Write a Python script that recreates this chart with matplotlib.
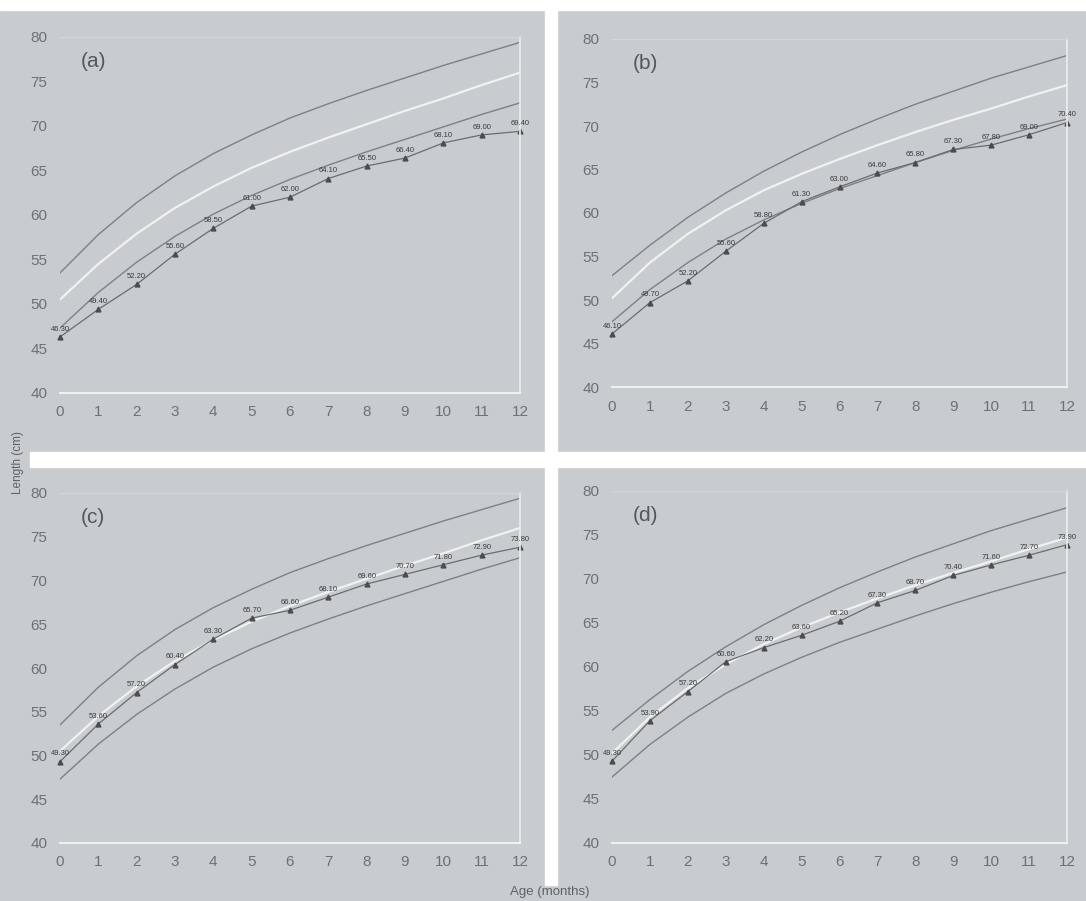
import matplotlib.pyplot as plt
from matplotlib.patches import Rectangle
import numpy as np

months = np.arange(0, 13)

# measured lengths (cm), one list per panel
length_a = [46.30, 49.40, 52.20, 55.60, 58.50, 61.00, 62.00, 64.10, 65.50, 66.40, 68.10, 69.00, 69.40]
length_b = [46.10, 49.70, 52.20, 55.60, 58.80, 61.30, 63.00, 64.60, 65.80, 67.30, 67.80, 69.00, 70.40]
length_c = [49.30, 53.60, 57.20, 60.40, 63.30, 65.70, 66.60, 68.10, 69.60, 70.70, 71.80, 72.90, 73.80]
length_d = [49.30, 53.90, 57.20, 60.60, 62.20, 63.60, 65.20, 67.30, 68.70, 70.40, 71.60, 72.70, 73.90]

# reference curves: (a)/(c) share one set, (b)/(d) the other
upper_ac = [53.5, 57.8, 61.4, 64.4, 66.9, 69.0, 70.9, 72.5, 74.0, 75.4, 76.8, 78.1, 79.4]
median_ac = [50.5, 54.5, 57.9, 60.8, 63.2, 65.3, 67.1, 68.7, 70.2, 71.7, 73.1, 74.6, 76.0]
lower_ac = [47.3, 51.3, 54.7, 57.6, 60.1, 62.2, 64.0, 65.6, 67.1, 68.5, 69.9, 71.3, 72.6]

upper_bd = [52.8, 56.3, 59.5, 62.3, 64.8, 67.0, 69.0, 70.8, 72.5, 74.0, 75.5, 76.8, 78.1]
median_bd = [50.2, 54.3, 57.6, 60.3, 62.6, 64.5, 66.2, 67.8, 69.3, 70.7, 72.0, 73.4, 74.7]
lower_bd = [47.5, 51.2, 54.3, 57.0, 59.2, 61.1, 62.8, 64.3, 65.8, 67.2, 68.5, 69.7, 70.8]

W, H = 1086, 901
bg = '#c8ccce'
tick_col = '#6e7173'
narrow = ['Liberation Sans Narrow', 'DejaVu Sans Condensed', 'Liberation Sans', 'DejaVu Sans']

fig = plt.figure(figsize=(W / 100, H / 100), dpi=100, facecolor=bg)

# white gaps of the scanned page
for (x0, y0, w, h) in [(0, 0, W, 10), (30, 452, W - 30, 15), (545, 0, 12, 885)]:
    fig.patches.append(Rectangle((x0 / W, 1 - (y0 + h) / H), w / W, h / H,
                                 transform=fig.transFigure, color='white', zorder=0))

panels = [
    ('(a)', length_a, upper_ac, median_ac, lower_ac, (60, 520, 37, 393)),
    ('(b)', length_b, upper_bd, median_bd, lower_bd, (612, 1067, 39, 387)),
    ('(c)', length_c, upper_ac, median_ac, lower_ac, (60, 520, 493, 843)),
    ('(d)', length_d, upper_bd, median_bd, lower_bd, (612, 1067, 491, 843)),
]

for tag, vals, up, med, low, (px0, px1, py80, py40) in panels:
    ax = fig.add_axes([px0 / W, 1 - py40 / H, (px1 - px0) / W, (py40 - py80) / H])
    ax.set_facecolor(bg)
    ax.set_xlim(0, 12)
    ax.set_ylim(40, 80)
    ax.set_xticks(months)
    ax.set_yticks(range(40, 81, 5))
    ax.tick_params(length=0, colors=tick_col, labelsize=11, pad=9)
    for lab in ax.get_xticklabels() + ax.get_yticklabels():
        lab.set_family(narrow)
        lab.set_stretch('condensed')
    ax.spines['left'].set_visible(False)
    ax.spines['top'].set_color('#d3d6d8')
    ax.spines['top'].set_linewidth(0.8)
    ax.spines['bottom'].set_color('#f2f3f3')
    ax.spines['bottom'].set_linewidth(1.4)
    ax.spines['right'].set_color('#eceeef')
    ax.spines['right'].set_linewidth(1.2)

    ax.plot(months, up, color='#7d8184', lw=1.0)
    ax.plot(months, med, color='#f0f2f2', lw=1.6)
    ax.plot(months, low, color='#7d8184', lw=1.0)
    ax.plot(months, vals, color='#6a6d70', lw=0.9, marker='^', ms=3.5,
            mfc='#4a4c4e', mec='#4a4c4e', clip_on=False)
    for m, v in zip(months, vals):
        ax.annotate(f'{v:.2f}', (m, v), xytext=(0, 3), textcoords='offset points',
                    ha='center', va='bottom', fontsize=5.5, color='#3a3c3e',
                    family=narrow, annotation_clip=False)

    ax.text(0.55, 77.2, tag, fontsize=15, color='#55585a', family=narrow,
            ha='left', va='center')

fig.text(18 / W, 1 - 462 / H, 'Length (cm)', rotation=90, ha='center', va='center',
         fontsize=8.5, color='#5f6264', family=narrow)
fig.text(550 / W, 1 - 892 / H, 'Age (months)', ha='center', va='center',
         fontsize=9.5, color='#5f6264', family=narrow)

fig.savefig('out.png', dpi=100, facecolor=bg)
